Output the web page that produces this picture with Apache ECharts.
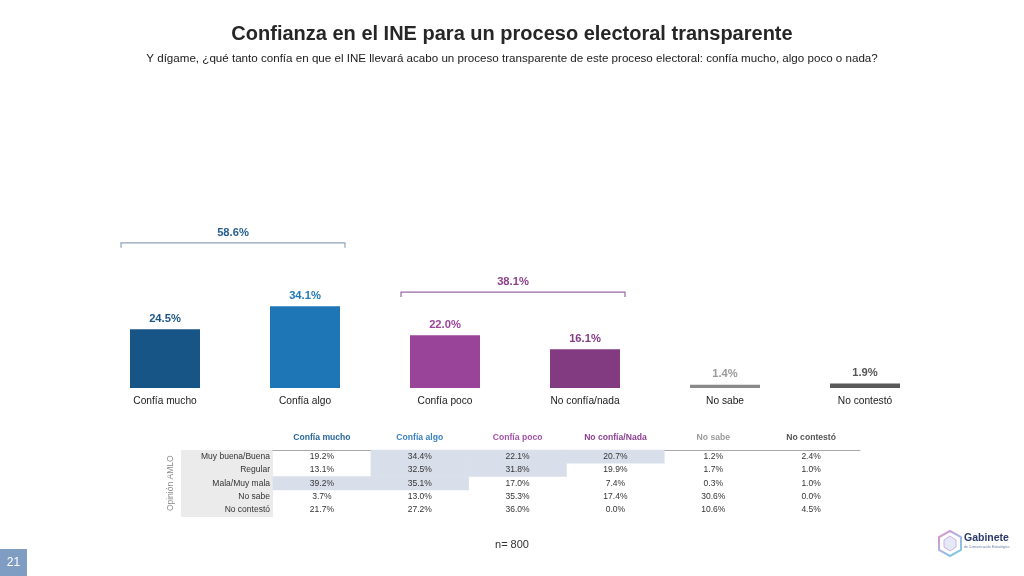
<!DOCTYPE html>
<html>
<head>
<meta charset="utf-8">
<script src="https://cdn.jsdelivr.net/npm/echarts@6/dist/echarts.min.js"></script>
<style>html,body{margin:0;padding:0;background:#fff}#c{width:1024px;height:576px}</style>
</head>
<body>
<div id="c"></div>
<script>
const categories = ['Confía mucho', 'Confía algo', 'Confía poco', 'No confía/nada', 'No sabe', 'No contestó'];
const values = [24.5, 34.1, 22.0, 16.1, 1.4, 1.9];
const barColors = ['#185587', '#1f76b7', '#9a4499', '#823a80', '#8a8a8a', '#5a5a5a'];
const labelColors = ['#1d5688', '#2179b8', '#9a4499', '#853d83', '#9a9a9a', '#555555'];

const bracketStart = [0, 2];
const bracketEnd = [1, 3];
const bracketValues = [58.6, 38.1];
const bracketColors = ['#8ea3ba', '#9a68a3'];
const bracketTextColors = ['#245f90', '#8c3f8c'];

const tableColumns = ['Confía mucho', 'Confía algo', 'Confía poco', 'No confía/Nada', 'No sabe', 'No contestó'];
const tableColumnColors = ['#2a689c', '#3a82c2', '#a352aa', '#8c4190', '#9a9a9a', '#555555'];
const tableRows = ['Muy buena/Buena', 'Regular', 'Mala/Muy mala', 'No sabe', 'No contestó'];
const rowMuyBuena = [19.2, 34.4, 22.1, 20.7, 1.2, 2.4];
const rowRegular = [13.1, 32.5, 31.8, 19.9, 1.7, 1.0];
const rowMala = [39.2, 35.1, 17.0, 7.4, 0.3, 1.0];
const rowNoSabe = [3.7, 13.0, 35.3, 17.4, 30.6, 0.0];
const rowNoContesto = [21.7, 27.2, 36.0, 0.0, 10.6, 4.5];
const highlightMuyBuena = [0, 1, 1, 1, 0, 0];
const highlightRegular = [0, 1, 1, 0, 0, 0];
const highlightMala = [1, 1, 0, 0, 0, 0];
const highlightNoSabe = [0, 0, 0, 0, 0, 0];
const highlightNoContesto = [0, 0, 0, 0, 0, 0];

const tableValues = [rowMuyBuena, rowRegular, rowMala, rowNoSabe, rowNoContesto];
const tableHighlights = [highlightMuyBuena, highlightRegular, highlightMala, highlightNoSabe, highlightNoContesto];

const FONT = 'Liberation Sans, Arial, sans-serif';

const heatData = [];
tableValues.forEach((row, r) => {
  row.forEach((v, c) => {
    heatData.push({
      value: [c, r, v],
      itemStyle: { color: tableHighlights[r][c] ? '#d9dfea' : 'rgba(255,255,255,0)' }
    });
  });
});

const bracketData = bracketValues.map((v, i) => [bracketStart[i], bracketEnd[i], v, i]);

const chart = echarts.init(document.getElementById('c'));
chart.setOption({
  animation: false,
  backgroundColor: '#ffffff',
  textStyle: { fontFamily: FONT },
  title: [
    { text: 'Confianza en el INE para un proceso electoral transparente', left: 'center', top: 19,
      textStyle: { fontFamily: FONT, fontSize: 20, fontWeight: 'bold', color: '#262626' } },
    { text: 'Y dígame, ¿qué tanto confía en que el INE llevará acabo un proceso transparente de este proceso electoral: confía mucho, algo poco o nada?',
      left: 'center', top: 48, textStyle: { fontFamily: FONT, fontSize: 11.6, fontWeight: 'normal', color: '#1a1a1a' } },
    { text: 'n= 800', left: 'center', top: 534, textStyle: { fontFamily: FONT, fontSize: 11, fontWeight: 'normal', color: '#333' } }
  ],
  grid: [
    { left: 95, width: 840, top: 148, height: 240 },
    { left: 273, width: 587, top: 450, height: 66.5 }
  ],
  xAxis: [
    { type: 'category', gridIndex: 0, data: categories,
      axisLine: { show: false }, axisTick: { show: false },
      axisLabel: { fontFamily: FONT, fontSize: 10.2, color: '#1a1a1a', margin: 8 } },
    { type: 'category', gridIndex: 1, data: tableColumns, position: 'top',
      axisLine: { show: true, lineStyle: { color: '#a8a8a8', width: 1 } }, axisTick: { show: false },
      axisLabel: { fontFamily: FONT, fontSize: 8.6, fontWeight: 'bold', margin: 8,
        color: (val, idx) => tableColumnColors[idx] } }
  ],
  yAxis: [
    { type: 'value', gridIndex: 0, min: 0, max: 100, show: false },
    { type: 'category', gridIndex: 1, data: tableRows, inverse: true,
      axisLine: { show: false }, axisTick: { show: false }, splitLine: { show: false },
      axisLabel: { fontFamily: FONT, fontSize: 8.5, color: '#333', margin: 3 },
      name: 'Opinión AMLO', nameLocation: 'middle', nameRotate: 90, nameGap: 98,
      nameTextStyle: { fontFamily: FONT, fontSize: 8.5, color: '#8a8a8a' } }
  ],
  graphic: [
    { type: 'rect', z: -10, shape: { x: 181, y: 450, width: 92, height: 67 }, style: { fill: '#ebebeb' } },
    { type: 'rect', shape: { x: 0, y: 549, width: 27, height: 27 }, style: { fill: '#7f9cc3' } },
    { type: 'text', x: 13.5, y: 562.5, style: { text: '21', fill: '#ffffff', fontSize: 12, fontFamily: FONT, align: 'center', verticalAlign: 'middle' } },
    { type: 'polygon', shape: { points: [[950, 531], [961, 537], [961, 550], [950, 556], [939, 550], [939, 537]] },
      style: { fill: 'rgba(0,0,0,0)', lineWidth: 2,
        stroke: new echarts.graphic.LinearGradient(0, 0, 1, 1, [{ offset: 0, color: '#e88bc0' }, { offset: 0.5, color: '#a9b6e0' }, { offset: 1, color: '#6fd0e6' }]) } },
    { type: 'polygon', shape: { points: [[950, 536], [956, 540], [956, 547], [950, 551], [944, 547], [944, 540]] },
      style: { fill: 'rgba(180,190,230,0.35)', stroke: '#c7b6e0', lineWidth: 1 } },
    { type: 'text', x: 964, y: 538, style: { text: 'Gabinete', fill: '#2b3a6a', fontSize: 10.5, fontWeight: 'bold', fontFamily: FONT, verticalAlign: 'middle' } },
    { type: 'text', x: 964, y: 547, style: { text: 'de Comunicación Estratégica', fill: '#6a7aa8', fontSize: 3.5, fontFamily: FONT, verticalAlign: 'middle' } }
  ],
  series: [
    { type: 'bar', xAxisIndex: 0, yAxisIndex: 0, barWidth: 70,
      data: values.map((v, i) => ({ value: v, itemStyle: { color: barColors[i] },
        label: { color: labelColors[i] } })),
      label: { show: true, position: 'top', distance: 5, fontFamily: FONT, fontSize: 11.2, fontWeight: 'bold',
        formatter: p => p.value.toFixed(1) + '%' } },
    { type: 'custom', xAxisIndex: 0, yAxisIndex: 0, data: bracketData, z: 5,
      renderItem: (params, api) => {
        const i = api.value(3);
        const p0 = api.coord([api.value(0), api.value(2)]);
        const p1 = api.coord([api.value(1), api.value(2)]);
        const y = p0[1] - 4.5;
        const xl = p0[0] - 44, xr = p1[0] + 40;
        return { type: 'group', children: [
          { type: 'polyline', shape: { points: [[xl, y + 5], [xl, y], [xr, y], [xr, y + 5]] },
            style: { stroke: bracketColors[i], lineWidth: 1.2, fill: null } },
          { type: 'text', x: (xl + xr) / 2, y: y - 10,
            style: { text: api.value(2).toFixed(1) + '%', fill: bracketTextColors[i], fontSize: 11.2, fontWeight: 'bold',
              fontFamily: FONT, align: 'center', verticalAlign: 'middle' } }
        ] };
      } },
    { type: 'heatmap', xAxisIndex: 1, yAxisIndex: 1, data: heatData,
      label: { show: true, fontFamily: FONT, fontSize: 8.5, color: '#333',
        formatter: p => p.value[2].toFixed(1) + '%' },
      emphasis: { disabled: true } }
  ]
});
</script>
</body>
</html>
